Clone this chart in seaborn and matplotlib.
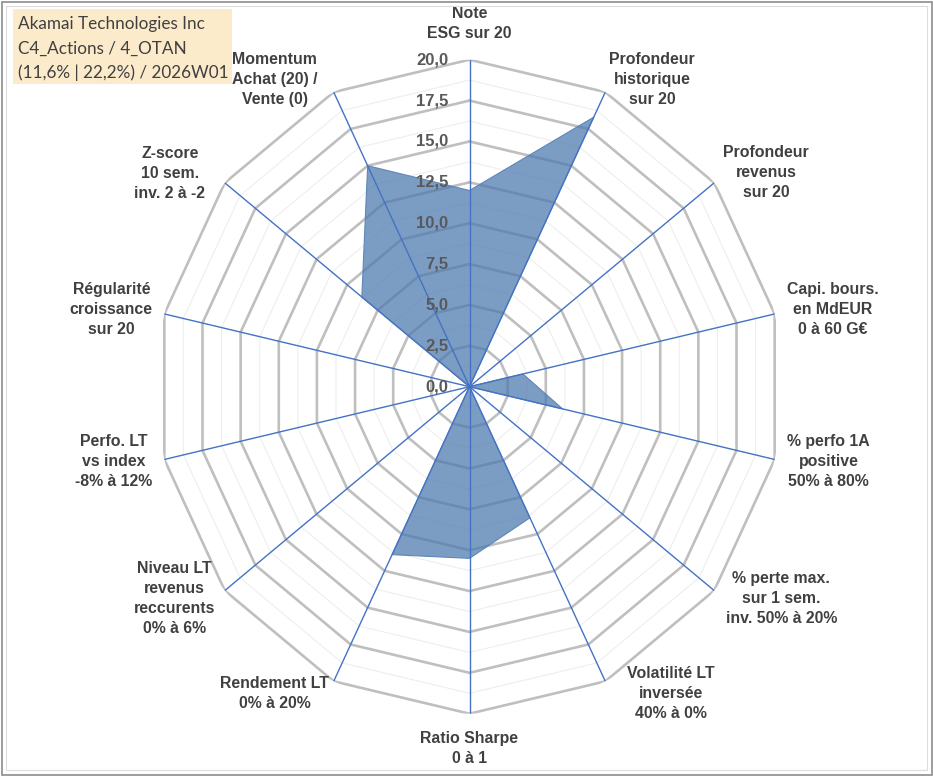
import numpy as np
import matplotlib
matplotlib.use("Agg")
import matplotlib.pyplot as plt
from matplotlib.patches import Rectangle
import seaborn as sns

# axes of the radar, clockwise from the top
axis_labels = [
    "Note\nESG sur 20",
    "Profondeur\nhistorique\nsur 20",
    "Profondeur\nrevenus\nsur 20",
    "Capi. bours.\nen MdEUR\n0 à 60 G€",
    "% perfo 1A\npositive\n50% à 80%",
    "% perte max.\nsur 1 sem.\ninv. 50% à 20%",
    "Volatilité LT\ninversée\n40% à 0%",
    "Ratio Sharpe\n0 à 1",
    "Rendement LT\n0% à 20%",
    "Niveau LT\nrevenus\nreccurents\n0% à 6%",
    "Perfo. LT\nvs index\n-8% à 12%",
    "Régularité\ncroissance\nsur 20",
    "Z-score\n10 sem.\ninv. 2 à -2",
    "Momentum\nAchat (20) /\nVente (0)",
]
scores = [12.0, 18.3, 0.0, 3.5, 6.1, 0.0, 8.9, 10.5, 11.4, 0.0, 0.0, 0.0, 8.8, 15.0]
r_ticks = [0.0, 2.5, 5.0, 7.5, 10.0, 12.5, 15.0, 17.5, 20.0]
title_lines = [
    "Akamai Technologies Inc",
    "C4_Actions / 4_OTAN",
    "(11,6% | 22,2%) / 2026W01",
]

# pixel offsets of the axis labels from the outer end of each spoke (x right, y down)
label_offsets = [
    (0, -36), (47, -13), (52, -10), (58, -4), (54, 2), (67, 8), (66, 12),
    (0, 35), (-59, 12), (-50, 8), (-51, 2), (-53, -4), (-55, -9), (-59, -13),
]


def main():
    sns.set_theme(style="white")
    plt.rcParams["font.family"] = ["Liberation Sans", "DejaVu Sans"]

    W, H = 933, 776
    fig = plt.figure(figsize=(W / 100, H / 100), dpi=100)

    # the original radar is slightly squeezed horizontally
    cx, cy = 469.5, 386.7
    rx, ry = 313, 327
    ax = fig.add_axes([(cx - rx) / W, 1 - (cy + ry) / H, 2 * rx / W, 2 * ry / H],
                      projection="polar")
    ax.set_aspect("auto")
    ax.set_theta_zero_location("N")
    ax.set_theta_direction(-1)
    ax.grid(False)
    ax.spines["polar"].set_visible(False)
    ax.patch.set_alpha(0)

    n = len(axis_labels)
    theta = np.arange(n) * 2 * np.pi / n
    ring_theta = np.append(theta, theta[0])
    closed = scores + scores[:1]

    # polygon web: major every 2.5, minor in between
    for r in np.arange(1.25, 20.01, 1.25):
        major = abs(r / 2.5 - round(r / 2.5)) < 1e-6
        ax.plot(ring_theta, [r] * (n + 1),
                color="#BFBFBF" if major else "#EEEEEE",
                lw=1.9 if major else 0.8, zorder=1)

    ax.fill(ring_theta, closed, color="#4a77ad", alpha=0.72, lw=0, zorder=3)
    sns.lineplot(x=ring_theta, y=closed, sort=False, estimator=None, ax=ax,
                 color="#5f86b8", lw=0.8, zorder=3)

    for t in theta:
        ax.plot([t, t], [0, 20], color="#4472C4", lw=1.0, zorder=4)

    ax.set_ylim(0, 20)
    ax.set_xticks([])
    ax.set_yticks([])
    ax.set_xlabel("")
    ax.set_ylabel("")

    for v in r_ticks:
        ax.annotate(f"{v:.1f}".replace(".", ","), xy=(0, v), xytext=(-21, 0),
                    textcoords="offset pixels", ha="right", va="center",
                    fontsize=12, fontweight="bold", color="#595959", zorder=5,
                    annotation_clip=False)

    for t, lab, (dx, dy) in zip(theta, axis_labels, label_offsets):
        ax.annotate(lab, xy=(t, 20), xytext=(dx, -dy), textcoords="offset pixels",
                    ha="center", va="center", fontsize=11.4, fontweight="bold",
                    color="#404040", linespacing=1.42, annotation_clip=False)

    # title box
    fig.patches.append(Rectangle((13 / W, 1 - 84 / H), 219 / W, 75 / H,
                                 transform=fig.transFigure, facecolor="#FCEBCB",
                                 edgecolor="none", zorder=0))
    for y, line in zip([24, 49, 72.5], title_lines):
        fig.text(18.5 / W, 1 - y / H, line, ha="left", va="center",
                 fontsize=12.3, family=["Lato", "DejaVu Sans"], color="#404040")

    # chart border
    fig.patches.append(Rectangle((1.5 / W, 1.5 / H), (W - 3) / W, (H - 3) / H,
                                 transform=fig.transFigure, fill=False,
                                 edgecolor="#8C8C8C", lw=1.2))
    fig.patches.append(Rectangle((6 / W, 6 / H), (W - 12) / W, (H - 12) / H,
                                 transform=fig.transFigure, fill=False,
                                 edgecolor="#DDDDDD", lw=0.8))

    fig.savefig("out.png", dpi=100)


if __name__ == '__main__':
    main()
